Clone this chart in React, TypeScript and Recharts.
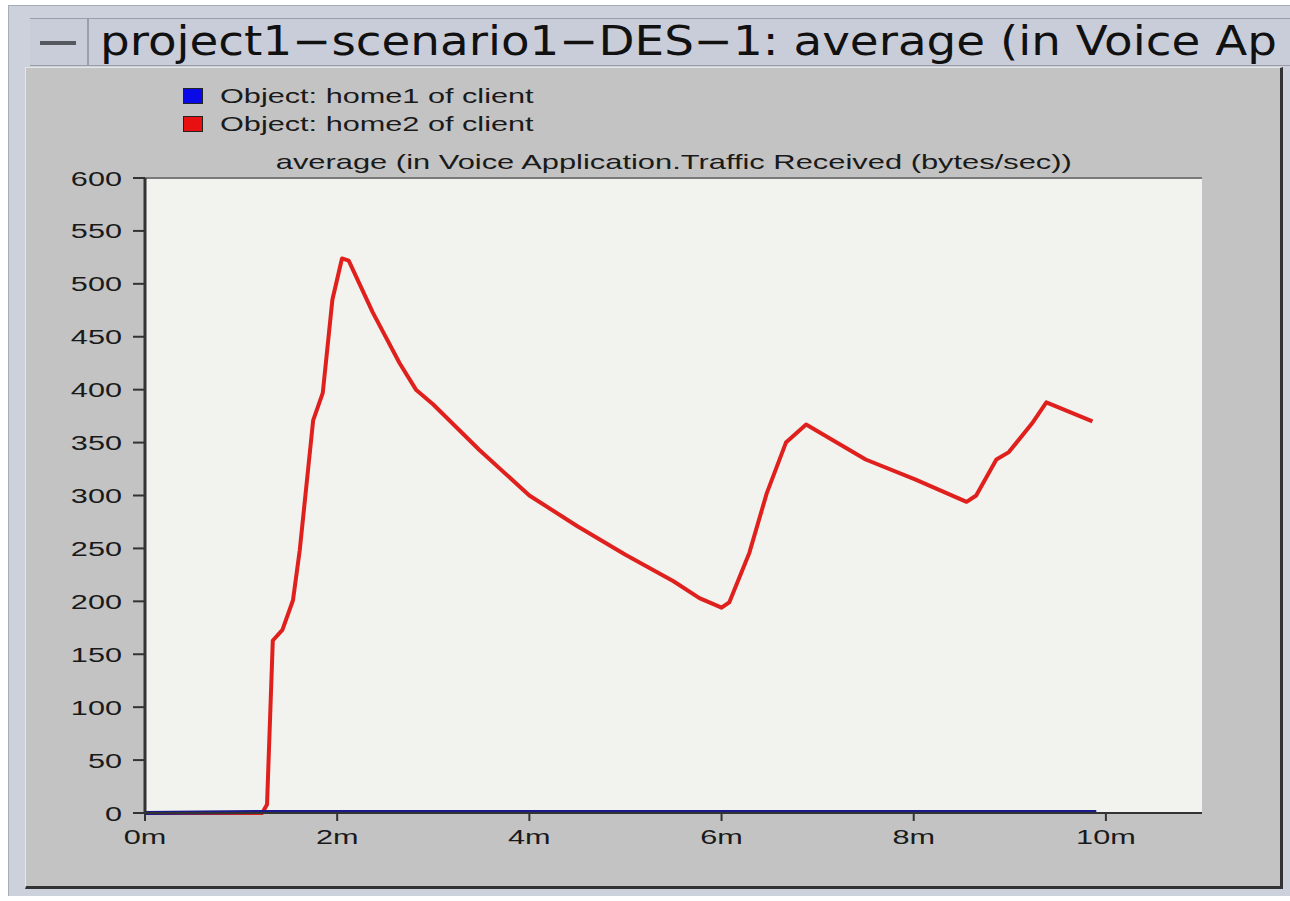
import { CartesianGrid, Line, LineChart, XAxis, YAxis } from 'recharts'

// time in minutes, values in bytes/sec
const home1Time = [0, 1.3, 9.9]
const home1Value = [0, 1, 1]

const home2Time = [
  0, 1.22, 1.27, 1.33, 1.43, 1.54, 1.61, 1.75, 1.85, 1.95, 2.05, 2.12, 2.37, 2.65, 2.82, 3.0, 3.48, 4.0, 4.5, 5.0,
  5.5, 5.77, 6.0, 6.08, 6.29, 6.47, 6.67, 6.88, 7.5, 8.02, 8.55, 8.65, 8.86, 8.99, 9.23, 9.38, 9.86,
]
const home2Value = [
  0, 0, 8, 163, 173, 201, 248, 371, 397, 485, 524, 522, 473, 425, 400, 386, 343, 300, 271, 244, 219, 203, 194, 199,
  246, 302, 350, 367, 334, 315, 294, 300, 334, 341, 368, 388, 370,
]

const xTicks = [0, 2, 4, 6, 8, 10]
const yTicks = [0, 50, 100, 150, 200, 250, 300, 350, 400, 450, 500, 550, 600]

const windowTitle = 'project1\u2212scenario1\u2212DES\u22121: average (in Voice Ap'
const chartTitle = 'average (in Voice Application.Traffic Received (bytes/sec))'

// red drawn first so the blue baseline sits on top, as in the original
const series = [
  { name: 'Object: home2 of client', color: '#e0201c', swatch: '#e81010', time: home2Time, value: home2Value },
  { name: 'Object: home1 of client', color: '#1a1a8c', swatch: '#0a0ae8', time: home1Time, value: home1Value },
]
const legendOrder = [series[1], series[0]]

const toPoints = (time: number[], value: number[]) => time.map((t, i) => ({ t, v: value[i] }))

const STRETCH = 1.46
const textFont = '"Liberation Sans", Arial, sans-serif'

function YTick({ x, y, payload }: any) {
  return (
    <g transform={`translate(${x},${y})`}>
      <text transform={`scale(${STRETCH},1)`} textAnchor="end" dy="0.36em" fontSize={21} fill="#1a1a1a" fontFamily={textFont}>
        {payload.value}
      </text>
    </g>
  )
}

function XTick({ x, y, payload }: any) {
  return (
    <g transform={`translate(${x},${y})`}>
      <text transform={`scale(${STRETCH},1)`} textAnchor="middle" dy="0.71em" fontSize={21} fill="#1a1a1a" fontFamily={textFont}>
        {`${payload.value}m`}
      </text>
    </g>
  )
}

export default function App() {
  return (
    <div style={{ position: 'absolute', left: 0, top: 0, width: 1290, height: 901, background: '#fff', overflow: 'hidden' }}>
      {/* window frame */}
      <div style={{ position: 'absolute', left: 8, top: 5, width: 1282, height: 890, background: '#cdd1db', borderTop: '1px solid #a8acb8', borderLeft: '1px solid #a8acb8' }} />
      {/* title bar */}
      <div style={{ position: 'absolute', left: 30, top: 18, width: 1260, height: 46, background: '#c9cdd9', borderTop: '1px solid #9a9eaa', borderBottom: '1px solid #9a9eaa', overflow: 'hidden' }}>
        <div style={{ position: 'absolute', left: 0, top: 0, width: 57, height: 46, borderRight: '2px solid #9a9eaa' }}>
          <div style={{ position: 'absolute', left: 10, top: 22, width: 36, height: 4, background: '#55585f' }} />
        </div>
        <div style={{ position: 'absolute', left: 70, top: -1, whiteSpace: 'nowrap', fontFamily: '"DejaVu Sans", sans-serif', fontSize: 40, lineHeight: '46px', color: '#111', transform: 'scaleX(1.17)', transformOrigin: 'left center' }}>
          {windowTitle}
        </div>
      </div>
      {/* chart panel */}
      <div style={{ position: 'absolute', left: 25, top: 67, width: 1254, height: 818, background: '#c3c3c3', borderRight: '3px solid #333', borderBottom: '3px solid #333', borderLeft: '1px solid #e6e6e6', borderTop: '1px solid #e6e6e6' }} />

      {/* legend */}
      {legendOrder.map((s, i) => (
        <div key={s.name} style={{ position: 'absolute', left: 183, top: 86 + i * 28, height: 20, whiteSpace: 'nowrap' }}>
          <div style={{ position: 'absolute', left: 0, top: 2, width: 18, height: 14, background: s.swatch, border: '1px solid #222' }} />
          <div style={{ position: 'absolute', left: 37, top: -2, fontFamily: textFont, fontSize: 21, color: '#1a1a1a', transform: `scaleX(${STRETCH})`, transformOrigin: 'left center' }}>
            {s.name}
          </div>
        </div>
      ))}

      {/* chart title */}
      <div style={{ position: 'absolute', left: 145, width: 1057, top: 150, textAlign: 'center', whiteSpace: 'nowrap' }}>
        <span style={{ display: 'inline-block', fontFamily: textFont, fontSize: 21, color: '#1a1a1a', transform: 'scaleX(1.47)' }}>{chartTitle}</span>
      </div>

      <div style={{ position: 'absolute', left: 0, top: 0 }}>
        <LineChart width={1290} height={901} margin={{ top: 178, right: 88, bottom: 38, left: 65 }}>
          <CartesianGrid vertical={false} stroke="#7a7a7a" strokeWidth={2} fill="#f2f2ee" fillOpacity={1} />
          <XAxis
            xAxisId="main"
            type="number"
            dataKey="t"
            domain={[0, 11]}
            ticks={xTicks}
            height={50}
            allowDuplicatedCategory={false}
            axisLine={{ stroke: '#333', strokeWidth: 2 }}
            tickLine={{ stroke: '#333', strokeWidth: 2 }}
            tickSize={8}
            tickMargin={8}
            tick={<XTick />}
          />
          <XAxis xAxisId="top" orientation="top" type="number" domain={[0, 11]} height={0} tick={false} tickLine={false} axisLine={{ stroke: '#333', strokeWidth: 2 }} />
          <YAxis
            yAxisId="main"
            type="number"
            domain={[0, 600]}
            ticks={yTicks}
            width={80}
            axisLine={{ stroke: '#333', strokeWidth: 3 }}
            tickLine={{ stroke: '#333', strokeWidth: 2 }}
            tickSize={12}
            tickMargin={11}
            tick={<YTick />}
          />
          <YAxis yAxisId="right" orientation="right" domain={[0, 600]} width={0} tick={false} tickLine={false} axisLine={{ stroke: '#333', strokeWidth: 2 }} />
          {series.map((s) => (
            <Line
              key={s.name}
              xAxisId="main"
              yAxisId="main"
              data={toPoints(s.time, s.value)}
              dataKey="v"
              name={s.name}
              type="linear"
              stroke={s.color}
              strokeWidth={4}
              strokeLinejoin="round"
              dot={false}
              activeDot={false}
              isAnimationActive={false}
            />
          ))}
        </LineChart>
      </div>
    </div>
  )
}
